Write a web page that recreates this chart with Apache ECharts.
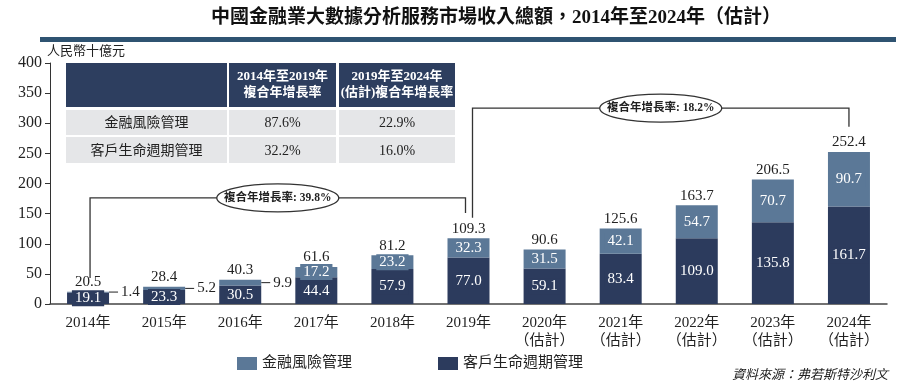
<!DOCTYPE html>
<html><head><meta charset="utf-8">
<script src="https://cdn.jsdelivr.net/npm/echarts@6/dist/echarts.min.js"></script>
<style>html,body{margin:0;padding:0;background:#fff}#c{width:902px;height:386px}</style>
</head><body><div id="c"></div>
<script>
// ---- data ----
const categories = ['2014年','2015年','2016年','2017年','2018年','2019年','2020年\n（估計）','2021年\n（估計）','2022年\n（估計）','2023年\n（估計）','2024年\n（估計）'];
const riskMgmt = [1.4,5.2,9.9,17.2,23.2,32.3,31.5,42.1,54.7,70.7,90.7];
const lifecycle = [19.1,23.3,30.5,44.4,57.9,77.0,59.1,83.4,109.0,135.8,161.7];
const totals = [20.5,28.4,40.3,61.6,81.2,109.3,90.6,125.6,163.7,206.5,252.4];
const seriesNames = ['金融風險管理','客戶生命週期管理'];
const yMin = 0, yMax = 400, yStep = 50;
const titleText = '中國金融業大數據分析服務市場收入總額，2014年至2024年（估計）';
const unitText = '人民幣十億元';
const sourceText = '資料來源：弗若斯特沙利文';
const tableHeader = ['', '2014年至2019年\n複合年增長率', '2019年至2024年\n(估計)複合年增長率'];
const tableRows = [['金融風險管理','87.6%','22.9%'],['客戶生命週期管理','32.2%','16.0%']];
const cagrLabels = ['複合年增長率: 39.8%','複合年增長率: 18.2%'];
const cagrSpans = [[0,5],[5,10]];

// ---- layout / style ----
const SERIF = "'Liberation Serif','Noto Sans CJK TC',serif";
const DARK = '#2c3b5d', LIGHT = '#5b7897', NAVY = '#2d3e5f';
const bracketLayout = [
  {level:176, leftEnd:43, rightEnd:151, dxL:2, dxR:-3},
  {level:325, leftEnd:143, rightEnd:294, dxL:4, dxR:0}
];

const chart = echarts.init(document.getElementById('c'), null, {renderer:'canvas'});

const lightData = riskMgmt.map(v => v < 12 ? {
  value:v,
  label:{position:'right', color:'#222', backgroundColor:'transparent', distance:9},
  labelLine:{show:true, lineStyle:{color:'#222', width:1}}
} : v);

chart.setOption({
  animation:false,
  grid:{left:50, right:15, top:63, bottom:82},
  legend:{
    data:seriesNames, left:232, top:351, itemWidth:20, itemHeight:13, itemGap:86,
    icon:'rect', textStyle:{fontFamily:SERIF, fontSize:15, color:'#222'}
  },
  xAxis:{
    type:'category', data:categories,
    axisLine:{lineStyle:{color:'#444', width:1.5}},
    axisTick:{show:false},
    axisLabel:{fontFamily:SERIF, fontSize:15, color:'#222', margin:10, lineHeight:18, interval:0}
  },
  yAxis:{
    type:'value', min:yMin, max:yMax, interval:yStep,
    axisLine:{show:true, lineStyle:{color:'#333', width:1}},
    axisTick:{show:true, length:5, lineStyle:{color:'#333'}},
    splitLine:{show:false},
    axisLabel:{fontFamily:SERIF, fontSize:16, color:'#222', margin:8}
  },
  series:[
    {name:seriesNames[1], type:'bar', stack:'a', barWidth:42, data:lifecycle,
     itemStyle:{color:DARK},
     label:{show:true, position:'inside', color:'#fff', fontFamily:SERIF, fontSize:15,
       backgroundColor:DARK, padding:[1,3,0,3], formatter:p=>p.value.toFixed(1)}},
    {name:seriesNames[0], type:'bar', stack:'a', barWidth:42, data:lightData,
     itemStyle:{color:LIGHT},
     label:{show:true, position:'inside', color:'#fff', fontFamily:SERIF, fontSize:15,
       backgroundColor:LIGHT, padding:[1,3,0,3], formatter:p=>p.value.toFixed(1)},
     labelLayout:function(p){ return riskMgmt[p.dataIndex] < 12 ? {dx:0} : {}; }},
    {name:'total', type:'bar', barWidth:42, barGap:'-100%', data:totals, silent:true,
     itemStyle:{color:'rgba(0,0,0,0)'},
     label:{show:true, position:'top', distance:2, color:'#222', fontFamily:SERIF, fontSize:15,
       formatter:p=>p.value.toFixed(1)}}
  ]
});

function buildGraphics(){
  const g = [];
  g.push({type:'text', left:211, top:9, style:{text:titleText, font:"bold 19px "+SERIF, fill:'#111'}});
  g.push({type:'rect', shape:{x:40, y:37, width:856, height:5}, style:{fill:'#2f5371'}});
  g.push({type:'text', left:47, top:45, style:{text:unitText, font:"13px "+SERIF, fill:'#222'}});
  g.push({type:'text', right:14, top:369, style:{text:sourceText, font:"italic 13px "+SERIF, fill:'#222'}});
  // table
  const cols = [[66,227],[229,336],[339,455]];
  g.push({type:'rect', shape:{x:66, y:63, width:161, height:44}, style:{fill:NAVY}});
  for (let c=1;c<3;c++){
    g.push({type:'rect', shape:{x:cols[c][0], y:63, width:cols[c][1]-cols[c][0], height:44}, style:{fill:NAVY}});
    g.push({type:'text', x:(cols[c][0]+cols[c][1])/2, y:85, style:{text:tableHeader[c], font:"bold 13px "+SERIF, fill:'#fff', align:'center', verticalAlign:'middle', lineHeight:16}});
  }
  const rowsY = [[110,135],[137,163]];
  tableRows.forEach((row,r)=>{
    row.forEach((cell,c)=>{
      g.push({type:'rect', shape:{x:cols[c][0], y:rowsY[r][0], width:cols[c][1]-cols[c][0], height:rowsY[r][1]-rowsY[r][0]}, style:{fill:'#e5e6e8'}});
      g.push({type:'text', x:(cols[c][0]+cols[c][1])/2, y:(rowsY[r][0]+rowsY[r][1])/2+1, style:{text:cell, font:"14px "+SERIF, fill:'#222', align:'center', verticalAlign:'middle'}});
    });
  });
  // CAGR brackets
  cagrSpans.forEach((sp,i)=>{
    const L = bracketLayout[i];
    const p0 = chart.convertToPixel({gridIndex:0}, [sp[0], L.level]);
    const p1 = chart.convertToPixel({gridIndex:0}, [sp[1], L.level]);
    const yl = chart.convertToPixel({gridIndex:0}, [sp[0], L.leftEnd])[1];
    const yr = chart.convertToPixel({gridIndex:0}, [sp[1], L.rightEnd])[1];
    const xl = p0[0]+L.dxL, xr = p1[0]+L.dxR, y = p0[1];
    g.push({type:'polyline', shape:{points:[[xl,yl],[xl,y],[xr,y],[xr,yr]]}, style:{stroke:'#333', lineWidth:1.3, fill:null}});
    const cx = (xl+xr)/2;
    g.push({type:'ellipse', shape:{cx:cx, cy:y, rx:61, ry:14}, style:{fill:'#fff', stroke:'#333', lineWidth:1.3}});
    g.push({type:'text', x:cx, y:y, style:{text:cagrLabels[i], font:"bold 11.5px "+SERIF, fill:'#222', align:'center', verticalAlign:'middle'}});
  });
  return g;
}
chart.setOption({graphic:buildGraphics()});
</script></body></html>
